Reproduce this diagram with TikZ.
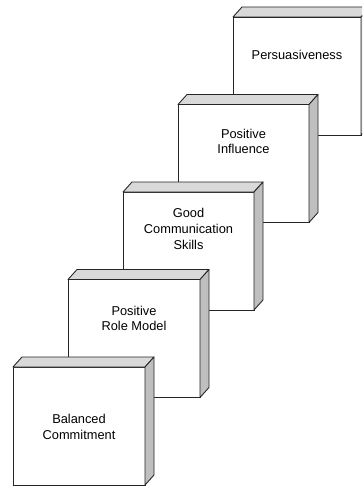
\documentclass[tikz,border=0pt]{standalone}
\usepackage{fontspec}
\setmainfont{Liberation Sans}
\begin{document}
\begin{tikzpicture}[x=0.02cm, y=-0.02cm,
		frontface/.style={fill=white, draw=black!85, line width=0.5pt},
		topface/.style={fill=gray!30, draw=black!85, line width=0.5pt, line join=round},
		sideface/.style={fill=gray!50, draw=black!85, line width=0.5pt, line join=round},
		boxlabel/.style={align=center, font=\fontsize{7.3}{9}\selectfont, inner sep=0pt}]
		\useasboundingbox (0,0) rectangle (362,486);
		\clip (0,0) rectangle (362,486);
		
		% boxes from the back one to the front one
		\foreach \bx/\by/\bw/\ty/\txt [count=\i] in {233/17/128/38/Persuasiveness,
				178/104.5/131/37/{Positive\\Influence},
				123/192/131/37/{Good\\Communication\\Skills},
				68/279.5/132/39/{Positive\\Role Model},
				13/367/132/60/{Balanced\\Commitment}} {
			\draw [frontface] (\bx,\by) rectangle ++(\bw,118);
			\draw [topface] (\bx,\by) -- ++(9,-10) -- ++(\bw,0) -- ++(-9,10) -- cycle;
			\draw [sideface] (\bx+\bw,\by) -- ++(9,-10) -- ++(0,118) -- ++(-9,10) -- cycle;
			\node [boxlabel] (step\i) at (\bx+\bw/2, \by+\ty) {\txt};
		}
		
\end{tikzpicture}
\end{document}
